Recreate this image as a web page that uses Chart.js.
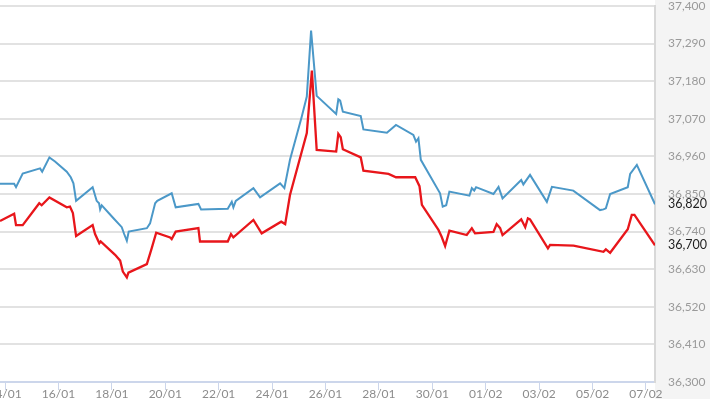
<!DOCTYPE html>
<html>
<head>
<meta charset="utf-8">
<script src="https://cdn.jsdelivr.net/npm/chart.js@4/dist/chart.umd.min.js"></script>
<style>
  html, body { margin: 0; padding: 0; background: #fff; }
  #wrap { position: relative; width: 710px; height: 399px; overflow: hidden; }
  #priceChart { position: absolute; left: -30px; top: 0; }
</style>
</head>
<body>
<div id="wrap"><canvas id="priceChart" width="740" height="399"></canvas></div>
<script>
// x = days since 14/01
const dateLabels = ['14/01', '16/01', '18/01', '20/01', '22/01', '24/01', '26/01', '28/01', '30/01', '01/02', '03/02', '05/02', '07/02'];
const yTicks = [36300, 36410, 36520, 36630, 36740, 36850, 36960, 37070, 37180, 37290, 37400];

// blue line (sell)
const sellDays = [-0.19, 0.34, 0.41, 0.66, 1.31, 1.39, 1.66, 1.87, 2.31, 2.46, 2.56, 2.66, 3.28, 3.43, 3.52, 3.56, 3.62, 4.06, 4.37, 4.46, 4.56, 4.63, 5.31, 5.43, 5.62, 5.70, 6.24, 6.39, 7.24, 7.34, 8.34, 8.49, 8.55, 8.64, 9.30, 9.55, 10.30, 10.46, 10.67, 11.11, 11.30, 11.46, 11.67, 12.40, 12.48, 12.55, 12.65, 13.32, 13.42, 14.30, 14.64, 15.29, 15.39, 15.48, 15.57, 16.29, 16.39, 16.52, 16.64, 17.39, 17.48, 17.57, 17.64, 18.29, 18.48, 18.63, 19.33, 19.41, 19.66, 20.29, 20.48, 21.28, 22.28, 22.41, 22.50, 22.66, 23.32, 23.41, 23.66, 24.34];
const sellPrices = [36880, 36880, 36870, 36910, 36925, 36915, 36957, 36945, 36915, 36899, 36881, 36830, 36870, 36830, 36823, 36805, 36817, 36779, 36753, 36733, 36713, 36740, 36750, 36764, 36823, 36830, 36852, 36811, 36821, 36805, 36807, 36827, 36811, 36830, 36867, 36840, 36881, 36867, 36950, 37076, 37135, 37328, 37137, 37084, 37127, 37123, 37091, 37078, 37039, 37029, 37052, 37023, 37003, 37013, 36950, 36852, 36813, 36817, 36857, 36845, 36867, 36860, 36870, 36850, 36871, 36837, 36891, 36878, 36906, 36827, 36871, 36860, 36803, 36805, 36808, 36850, 36870, 36909, 36935, 36820];

// red line (buy)
const buyDays = [-0.19, 0.34, 0.41, 0.66, 1.28, 1.37, 1.66, 2.31, 2.43, 2.54, 2.66, 3.28, 3.37, 3.53, 3.58, 4.12, 4.31, 4.41, 4.56, 4.62, 5.31, 5.49, 5.66, 6.18, 6.24, 6.39, 7.24, 7.30, 8.34, 8.46, 8.55, 9.30, 9.61, 10.34, 10.49, 10.67, 11.30, 11.49, 11.67, 12.40, 12.48, 12.57, 12.65, 13.32, 13.42, 14.36, 14.64, 15.36, 15.52, 15.61, 16.23, 16.35, 16.48, 16.64, 17.29, 17.48, 17.60, 18.29, 18.41, 18.54, 18.63, 19.33, 19.48, 19.58, 19.66, 20.33, 20.41, 21.29, 22.41, 22.50, 22.66, 23.32, 23.47, 23.57, 24.34];
const buyPrices = [36771, 36792, 36759, 36759, 36823, 36817, 36840, 36811, 36813, 36794, 36727, 36759, 36733, 36706, 36711, 36672, 36655, 36623, 36606, 36620, 36645, 36691, 36737, 36723, 36718, 36740, 36750, 36711, 36711, 36733, 36723, 36774, 36735, 36769, 36762, 36847, 37028, 37211, 36979, 36974, 37026, 37016, 36981, 36957, 36918, 36909, 36899, 36899, 36873, 36818, 36745, 36725, 36698, 36743, 36730, 36750, 36735, 36739, 36762, 36750, 36730, 36776, 36753, 36779, 36776, 36691, 36701, 36699, 36681, 36688, 36678, 36747, 36789, 36789, 36700];

const FONT = 'Lato, "Open Sans", sans-serif';

// gray strip behind the right axis + dark labels for the last values
const lastValuePlugin = {
  id: 'lastValue',
  beforeDraw(chart) {
    const { ctx, chartArea } = chart;
    ctx.save();
    ctx.fillStyle = '#f4f4f4';
    ctx.fillRect(chartArea.right, 0, chart.width - chartArea.right, chart.height);
    ctx.restore();
  },
  afterDraw(chart) {
    const { ctx, chartArea } = chart;
    const y = chart.scales.y;
    ctx.save();
    ctx.font = '12.5px ' + FONT;
    ctx.fillStyle = '#1e1e1e';
    ctx.textAlign = 'left';
    ctx.textBaseline = 'middle';
    chart.data.datasets.forEach(ds => {
      const v = ds.data[ds.data.length - 1].y;
      ctx.fillText(v.toLocaleString('en-US'), chartArea.right + 13, y.getPixelForValue(v));
    });
    ctx.restore();
  }
};

const ctx = document.getElementById('priceChart').getContext('2d');
new Chart(ctx, {
  type: 'line',
  data: {
    datasets: [{
      label: 'Bán ra',
      data: sellDays.map((d, i) => ({ x: d, y: sellPrices[i] })),
      borderColor: '#4b98c8',
      borderWidth: 2,
      pointRadius: 0,
      tension: 0,
      fill: false
    }, {
      label: 'Mua vào',
      data: buyDays.map((d, i) => ({ x: d, y: buyPrices[i] })),
      borderColor: '#e8161b',
      borderWidth: 2.3,
      pointRadius: 0,
      tension: 0,
      fill: false
    }]
  },
  options: {
    responsive: false,
    animation: false,
    devicePixelRatio: 1,
    layout: { padding: { left: 30, top: 0, right: 0, bottom: 0 } },
    plugins: {
      legend: { display: false },
      tooltip: { enabled: false }
    },
    scales: {
      x: {
        type: 'linear',
        min: -0.19,
        max: 24.34,
        afterBuildTicks: s => { s.ticks = dateLabels.map((_, i) => ({ value: i * 2 })); },
        afterFit: s => { s.height = 17; },
        ticks: {
          callback: v => dateLabels[Math.round(v / 2)],
          autoSkip: false,
          maxRotation: 0,
          padding: -3,
          color: '#8c8c8c',
          font: { family: FONT, size: 12 }
        },
        grid: {
          drawOnChartArea: false,
          drawTicks: true,
          tickLength: 8,
          tickColor: '#ccd6eb'
        },
        border: { display: true, color: '#ccd6eb', width: 2 }
      },
      y: {
        position: 'right',
        min: 36300,
        max: 37400,
        afterBuildTicks: s => { s.ticks = yTicks.map(v => ({ value: v })); },
        afterFit: s => { s.width = 55; s.paddingTop = 6; s.paddingBottom = 0; },
        ticks: {
          callback: v => v.toLocaleString('en-US'),
          padding: 13,
          color: '#9a9a9a',
          font: { family: FONT, size: 12 }
        },
        grid: {
          color: '#e2e2e2',
          lineWidth: 2,
          drawTicks: false
        },
        border: { display: true, color: '#d8d8d8', width: 2 }
      }
    }
  },
  plugins: [lastValuePlugin]
});
</script>
</body>
</html>
